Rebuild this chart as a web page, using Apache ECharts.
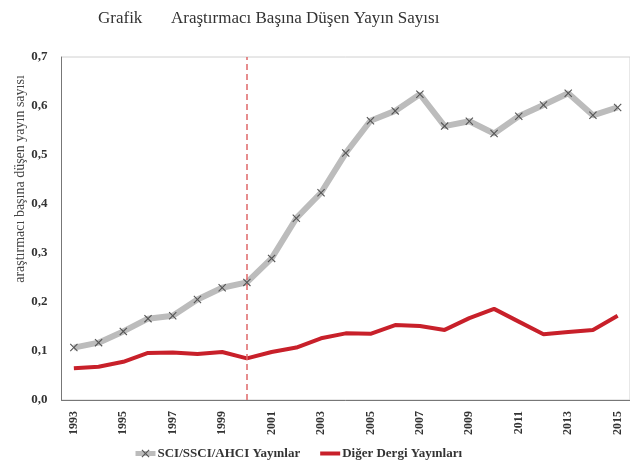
<!DOCTYPE html>
<html lang="tr">
<head>
    <meta charset="UTF-8">
    <title>Grafik</title>
    <script src="https://cdn.jsdelivr.net/npm/echarts@6/dist/echarts.min.js"></script>
    <style>
        body { margin: 0; background: #fff; }
    </style>
</head>
<body>
    <div id="main" style="width: 630px;height:465px;"></div>

    <script type="text/javascript">
        // yıllar
        var years = ['1993', '1994', '1995', '1996', '1997', '1998', '1999', '2000', '2001', '2002', '2003', '2004',
            '2005', '2006', '2007', '2008', '2009', '2010', '2011', '2012', '2013', '2014', '2015'];

        // SCI/SSCI/AHCI
        var sciValues = [0.107, 0.117, 0.140, 0.166, 0.172, 0.205, 0.229, 0.240, 0.289, 0.371, 0.423, 0.504,
            0.570, 0.590, 0.624, 0.559, 0.569, 0.544, 0.579, 0.602, 0.626, 0.581, 0.597];

        // diğer dergiler
        var otherValues = [0.065, 0.068, 0.078, 0.096, 0.097, 0.094, 0.098, 0.085, 0.098, 0.107, 0.126, 0.136,
            0.135, 0.153, 0.151, 0.143, 0.167, 0.186, 0.160, 0.134, 0.139, 0.143, 0.172];

        var seriesNames = ['SCI/SSCI/AHCI Yayınlar', 'Diğer Dergi Yayınları'];
        var markYear = '2000';

        var serif = '"Liberation Serif", "DejaVu Serif", serif';
        var cross = 'path://M0,1L1,0L5,4L9,0L10,1L6,5L10,9L9,10L5,6L1,10L0,9L4,5Z';
        var bar = 'path://M0,0L20,0L20,4L0,4Z';

        var myChart = echarts.init(document.getElementById('main'));

        var option = {
            animation: false,
            title: [{
                text: 'Grafik',
                left: 93,
                top: 5,
                textStyle: { fontFamily: serif, fontSize: 17, fontWeight: 'normal', color: '#333' }
            }, {
                text: 'Araştırmacı Başına Düşen Yayın Sayısı',
                left: 166,
                top: 5,
                textStyle: { fontFamily: serif, fontSize: 17, fontWeight: 'normal', color: '#333' }
            }],
            graphic: [{
                type: 'text',
                x: 20,
                y: 179,
                rotation: Math.PI / 2,
                style: {
                    text: 'araştırmacı başına düşen yayın sayısı',
                    font: '14px ' + serif,
                    fill: '#444',
                    align: 'center',
                    verticalAlign: 'middle'
                }
            }],
            legend: {
                data: [
                    { name: seriesNames[0], lineStyle: { width: 5, color: '#bcbcbc' } },
                    { name: seriesNames[1], icon: bar, itemStyle: { color: '#c8202a' } }
                ],
                left: 128,
                bottom: 0,
                itemWidth: 20,
                itemHeight: 10,
                itemGap: 20,
                textStyle: { fontFamily: serif, fontSize: 13, fontWeight: 'bold', color: '#333', padding: [0, 0, 0, -3] }
            },
            grid: {
                left: 61.5,
                right: -5.5,
                top: 57,
                bottom: 65,
                show: true,
                borderColor: '#d0d0d0',
                borderWidth: 1
            },
            xAxis: {
                type: 'category',
                data: years,
                boundaryGap: true,
                axisLine: { lineStyle: { color: '#777' } },
                axisTick: { show: false },
                axisLabel: {
                    interval: 1,
                    rotate: 90,
                    margin: 11,
                    fontFamily: serif,
                    fontSize: 12,
                    fontWeight: 'bold',
                    color: '#333'
                }
            },
            yAxis: {
                type: 'value',
                min: 0,
                max: 0.7,
                interval: 0.1,
                axisLine: { show: true, lineStyle: { color: '#777' } },
                axisTick: { show: false },
                splitLine: { show: false },
                axisLabel: {
                    margin: 14,
                    fontFamily: serif,
                    fontSize: 13,
                    fontWeight: 'bold',
                    color: '#333',
                    formatter: function (v) { return v.toFixed(1).replace('.', ','); }
                }
            },
            series: [{
                name: seriesNames[0],
                type: 'line',
                data: sciValues,
                symbol: cross,
                symbolSize: 8,
                lineStyle: { color: '#bcbcbc', width: 6 },
                itemStyle: { color: '#555' },
                z: 3,
                markLine: {
                    silent: true,
                    symbol: 'none',
                    label: { show: false },
                    lineStyle: { color: '#e0686a', width: 1.5, type: [6, 4] },
                    data: [{ xAxis: markYear }]
                }
            }, {
                name: seriesNames[1],
                type: 'line',
                data: otherValues,
                showSymbol: false,
                symbol: 'none',
                lineStyle: { color: '#c8202a', width: 4 },
                itemStyle: { color: '#c8202a' },
                z: 2
            }]
        };

        myChart.setOption(option);
    </script>
</body>
</html>
